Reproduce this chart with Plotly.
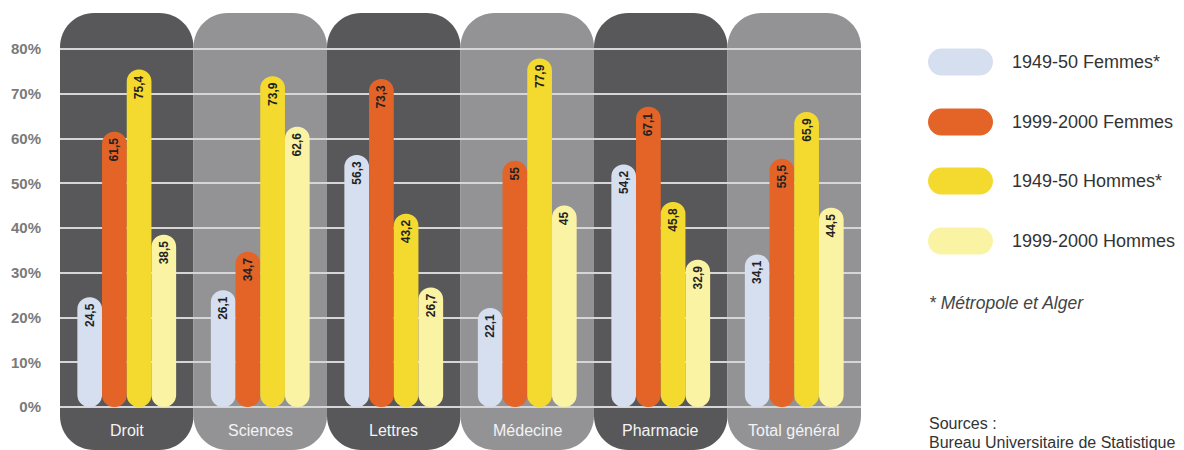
import plotly.graph_objects as go

# ---------------- data ----------------
categories = ["Droit", "Sciences", "Lettres", "Médecine", "Pharmacie", "Total général"]
series_names = ["1949-50 Femmes*", "1999-2000 Femmes", "1949-50 Hommes*", "1999-2000 Hommes"]
femmes_1949 = [24.5, 26.1, 56.3, 22.1, 54.2, 34.1]
femmes_1999 = [61.5, 34.7, 73.3, 55, 67.1, 55.5]
hommes_1949 = [75.4, 73.9, 43.2, 77.9, 45.8, 65.9]
hommes_1999 = [38.5, 62.6, 26.7, 45, 32.9, 44.5]
series_values = [femmes_1949, femmes_1999, hommes_1949, hommes_1999]
series_colors = ["#d6dff0", "#e36426", "#f4da2f", "#fbf3a4"]
tick_values = [0, 10, 20, 30, 40, 50, 60, 70, 80]
tick_labels = [f"{v}%" for v in tick_values]
footnote = "* Métropole et Alger"
sources = ["Sources :", "Bureau Universitaire de Statistique"]

FONT = "Liberation Sans, Arial, sans-serif"

# ---------------- layout geometry ----------------
W, H = 1184, 450
ML, MR, MT, MB = 60, 323, 13, 0
PW, PH = W - ML - MR, H - MT - MB
Y0_PX, Y80_PX = 407, 49                     # pixel rows of 0% and 80%
ypx = (Y0_PX - Y80_PX) / 80.0               # pixels per percent
YMIN = -(H - MB - Y0_PX) / ypx
YMAX = 80 + (Y80_PX - MT) / ypx
NCAT = len(categories)
xpx = PW / NCAT                             # pixels per category unit

BAR_W = 0.185                               # bar width in category units

panel_colors = ["#58585a", "#939396"]
K = 0.5523


def rounded_rect(x0, x1, y0, y1, rx, ry):
    kx, ky = K * rx, K * ry
    return (f"M {x0},{y0+ry} L {x0},{y1-ry} "
            f"C {x0},{y1-ry+ky} {x0+rx-kx},{y1} {x0+rx},{y1} "
            f"L {x1-rx},{y1} "
            f"C {x1-rx+kx},{y1} {x1},{y1-ry+ky} {x1},{y1-ry} "
            f"L {x1},{y0+ry} "
            f"C {x1},{y0+ry-ky} {x1-rx+kx},{y0} {x1-rx},{y0} "
            f"L {x0+rx},{y0} "
            f"C {x0+rx-kx},{y0} {x0},{y0+ry-ky} {x0},{y0+ry} Z")


fig = go.Figure()

idx = list(range(NCAT))
for k, (name, vals, col) in enumerate(zip(series_names, series_values, series_colors)):
    off = -2 * BAR_W + k * BAR_W
    labels = [f"{v:g}".replace(".", ",") for v in vals]
    fig.add_trace(go.Bar(
        x=idx, y=vals, base=[0] * NCAT,
        width=BAR_W, offset=off, name=name,
        marker=dict(color=col, line=dict(width=0), cornerradius="50%"),
        text=labels, textposition="inside", insidetextanchor="end", textangle=-90,
        insidetextfont=dict(family=FONT, size=12, color="#222222", weight="bold"),
        showlegend=False, hoverinfo="skip",
    ))

shapes = []
annotations = []
rx = 34 / xpx
ry = 34 / ypx
for i, cat in enumerate(categories):
    shapes.append(dict(type="path", xref="x", yref="y", layer="below",
                       path=rounded_rect(i - 0.5, i + 0.5, YMIN, YMAX, rx, ry),
                       fillcolor=panel_colors[i % 2], line=dict(width=0)))
    annotations.append(dict(x=i, y=(Y0_PX - 430) / ypx, xref="x", yref="y",
                            text=cat, showarrow=False,
                            font=dict(family=FONT, size=16, color="#f4f4f4")))


def px_to_paper_x(px):
    return (px - ML) / PW


def px_to_paper_y(py):
    return (H - MB - py) / PH


leg_y = [62, 122, 181, 241]
hw, hh = 32.5, 13.5
pill = (f"M {-hw+hh},{-hh} L {hw-hh},{-hh} "
        f"C {hw-hh+K*hh},{-hh} {hw},{-K*hh} {hw},0 "
        f"C {hw},{K*hh} {hw-hh+K*hh},{hh} {hw-hh},{hh} "
        f"L {-hw+hh},{hh} "
        f"C {-hw+hh-K*hh},{hh} {-hw},{K*hh} {-hw},0 "
        f"C {-hw},{-K*hh} {-hw+hh-K*hh},{-hh} {-hw+hh},{-hh} Z")
for name, col, cy in zip(series_names, series_colors, leg_y):
    shapes.append(dict(type="path", xref="paper", yref="paper",
                       xsizemode="pixel", ysizemode="pixel",
                       xanchor=px_to_paper_x(960.5), yanchor=px_to_paper_y(cy),
                       path=pill, fillcolor=col, line=dict(width=0)))
    annotations.append(dict(x=px_to_paper_x(1010), y=px_to_paper_y(cy),
                            xref="paper", yref="paper", xanchor="left", yanchor="middle",
                            text=name, showarrow=False,
                            font=dict(family=FONT, size=18, color="#333333")))

annotations.append(dict(x=px_to_paper_x(927), y=px_to_paper_y(303),
                        xref="paper", yref="paper", xanchor="left", yanchor="middle",
                        text=f"<i>{footnote}</i>", showarrow=False,
                        font=dict(family=FONT, size=17.5, color="#444444")))
for line, cy in zip(sources, [423, 442]):
    annotations.append(dict(x=px_to_paper_x(927), y=px_to_paper_y(cy),
                            xref="paper", yref="paper", xanchor="left", yanchor="middle",
                            text=line, showarrow=False,
                            font=dict(family=FONT, size=16, color="#333333")))

fig.update_layout(
    width=W, height=H, autosize=False,
    margin=dict(l=ML, r=MR, t=MT, b=MB, pad=0),
    paper_bgcolor="white", plot_bgcolor="rgba(0,0,0,0)",
    barmode="overlay", showlegend=False,
    shapes=shapes, annotations=annotations,
    xaxis=dict(range=[-0.5, NCAT - 0.5], showgrid=False, zeroline=False,
               showticklabels=False, showline=False, fixedrange=True),
    yaxis=dict(range=[YMIN, YMAX], tickmode="array", tickvals=tick_values,
               ticktext=tick_labels,
               showgrid=True, gridcolor="#d6d6d6", gridwidth=1.5,
               zeroline=False, showline=False, ticks="", ticklabelstandoff=18,
               tickfont=dict(family=FONT, size=15, color="#7a7a7a", weight="bold"),
               fixedrange=True),
)

fig.write_html("out.html")
